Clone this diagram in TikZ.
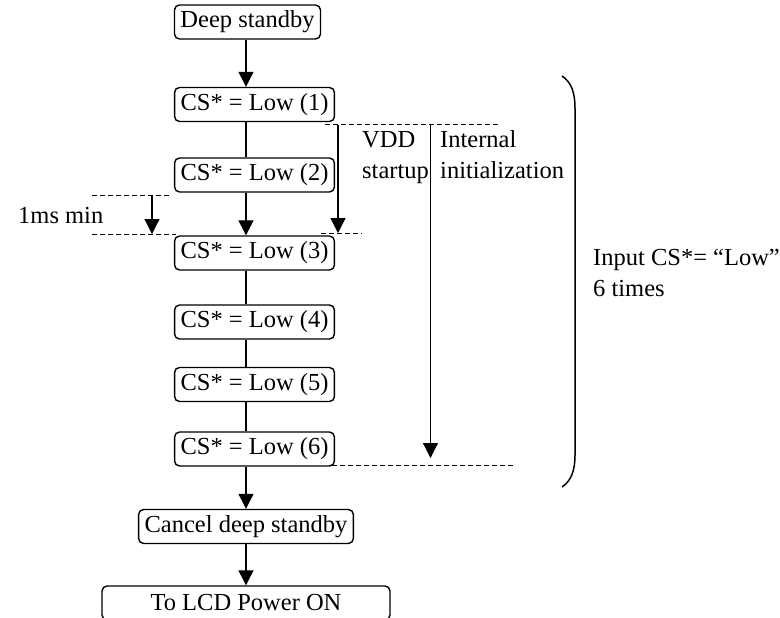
\documentclass[tikz,border=0pt]{standalone}
\usepackage{fontspec}
\setmainfont{Liberation Serif}
\usetikzlibrary{arrows.meta}
\tikzset{
  txt/.style={font=\fontsize{24.5}{31}\selectfont, inner sep=0pt},
  stepbox/.style={draw, line width=1.4pt, rounded corners=5pt, inner xsep=6pt,
    inner ysep=0pt, minimum height=34pt, font=\fontsize{24.5}{31}\selectfont},
  ln/.style={line width=1.2pt},
  arr/.style={line width=1.2pt, -{Triangle[length=15pt,width=15pt]}},
  dsh/.style={line width=1pt, dash pattern=on 5pt off 3pt},
}
\begin{document}
\begin{tikzpicture}[x=1pt, y=-1pt]
\useasboundingbox (0,0) rectangle (780,618);

% main flow
\node[stepbox] (d0) at (247.5,22) {Deep standby};
\node[stepbox] (c1) at (254.5,104.5) {CS* = Low (1)};
\node[stepbox] (c2) at (254.5,175) {CS* = Low (2)};
\node[stepbox] (c3) at (254.5,253) {CS* = Low (3)};
\node[stepbox] (c4) at (254.5,322) {CS* = Low (4)};
\node[stepbox] (c5) at (254.5,384.5) {CS* = Low (5)};
\node[stepbox] (c6) at (254.5,449) {CS* = Low (6)};
\node[stepbox] (cx) at (246,526.5) {Cancel deep standby};
\node[stepbox, minimum width=288pt] (lcd) at (246,603) {To LCD Power ON};

\coordinate (spine) at (246,0);
\draw[arr] (d0.south -| spine) -- (c1.north -| spine);
\draw[ln]  (c1.south -| spine) -- (c2.north -| spine);
\draw[arr] (c2.south -| spine) -- (c3.north -| spine);
\draw[ln]  (c3.south -| spine) -- (c4.north -| spine);
\draw[ln]  (c4.south -| spine) -- (c5.north -| spine);
\draw[ln]  (c5.south -| spine) -- (c6.north -| spine);
\draw[arr] (c6.south -| spine) -- (cx.north -| spine);
\draw[arr] (cx.south -| spine) -- (lcd.north -| spine);

% 1 ms minimum interval
\coordinate (ma) at (92,195);  \coordinate (mb) at (172,195);
\coordinate (mc) at (92,234);  \coordinate (md) at (176,234);
\coordinate (mt) at (152,195); \coordinate (mu) at (152,234);
\draw[dsh] (ma) -- (mb);
\draw[dsh] (mc) -- (md);
\draw[arr] (mt) -- (mu);
\node[txt, anchor=base west] (lms) at (18,223) {1ms min};

% VDD startup and internal initialization
\coordinate (ta) at (325,125); \coordinate (tb) at (498,125);
\coordinate (va) at (338,125); \coordinate (vb) at (338,233);
\coordinate (vc) at (321,233); \coordinate (vd) at (362,233);
\coordinate (ia) at (430.5,125); \coordinate (ib) at (430.5,458);
\coordinate (ba) at (332,465); \coordinate (bb) at (513,465);
\draw[dsh] (ta) -- (tb);
\draw[arr] (va) -- (vb);
\draw[dsh] (vc) -- (vd);
\draw[arr] (ia) -- (ib);
\draw[dsh] (ba) -- (bb);
\node[txt, anchor=base west] (vdd1) at (362,147) {VDD};
\node[txt, anchor=base west] (vdd2) at (362,178) {startup};
\node[txt, anchor=base west] (ini1) at (440,147) {Internal};
\node[txt, anchor=base west] (ini2) at (440,178) {initialization};

% brace over the six inputs
\draw[line width=1.5pt] (562,76) .. controls (571,82) and (575,92) .. (575,108)
  -- (575,455) .. controls (575,471) and (571,481) .. (562,487);
\node[txt, anchor=base west] (inp1) at (593,265) {Input CS*= “Low”};
\node[txt, anchor=base west] (inp2) at (593,296) {6 times};
\end{tikzpicture}
\end{document}
